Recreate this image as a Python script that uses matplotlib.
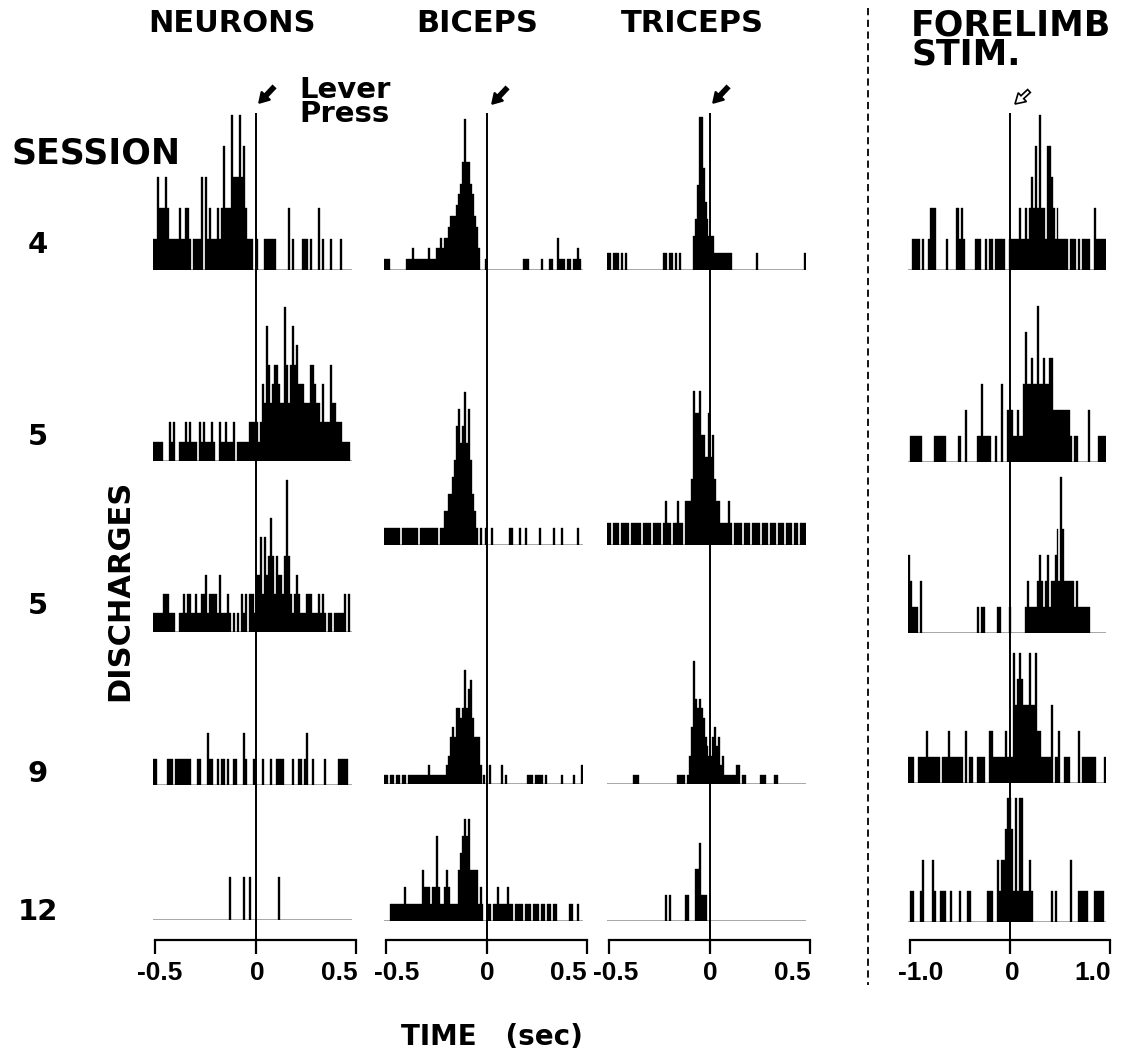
import matplotlib
matplotlib.use('Agg')
import matplotlib.pyplot as plt
import numpy as np
from matplotlib.patches import FancyArrow

W, H, DPI = 1121, 1062, 100
plt.rcParams['font.family'] = ['DejaVu Sans']
plt.rcParams['font.weight'] = 'bold'

# ---------------- data: spike counts per bin (100 bins per panel) ----------------
NEU_S4 = [1,1,3,2,2,2,3,2,1,1, 1,1,1,2,1,1,2,2,1,0, 1,1,1,1,3,0,3,1,2,1,
          1,1,2,1,2,4,2,2,2,5, 3,3,3,5,3,4,2,1,1,1, 0,0,1,0,0,0,1,1,1,1,
          1,1,0,0,0,0,0,0,2,0, 1,0,0,0,0,1,1,1,0,1, 0,0,0,2,0,1,0,0,0,1,
          0,0,0,0,1,0,0,0,0,0]
NEU_S5A = [1,1,1,1,1,0,0,0,2,1, 2,0,0,1,1,1,2,1,2,1, 1,1,0,2,1,2,1,1,1,2,
           1,0,0,2,1,1,2,1,1,1, 2,0,1,1,1,1,1,1,2,2, 2,2,2,1,2,4,3,7,5,3,
           4,5,5,4,3,3,8,5,3,5, 7,5,6,4,4,4,3,3,3,5, 5,4,3,3,2,4,2,2,2,5,
           3,3,2,2,2,1,1,1,1,0]
NEU_S5B = [1,1,1,1,1,2,2,2,1,1, 1,0,0,1,1,2,1,2,2,1, 1,2,1,1,2,2,3,1,2,2,
           2,2,1,3,1,1,1,2,1,0, 1,0,1,0,2,1,2,0,2,2, 2,1,3,3,5,2,5,3,4,6,
           4,2,4,3,3,2,4,8,4,2, 1,2,3,2,1,1,1,2,2,2, 1,1,1,2,1,2,1,0,1,1,
           0,1,1,1,1,1,2,0,2,0]
NEU_S9 = [1,1,0,0,0,0,0,1,1,1, 0,1,1,1,1,1,1,1,1,0, 0,0,1,1,0,0,0,2,1,1,
          0,0,1,0,1,1,0,1,0,0, 1,1,0,0,0,2,1,0,0,0, 1,1,0,0,0,1,0,0,0,1,
          0,0,1,1,1,1,0,0,0,0, 1,0,0,1,1,0,1,2,0,0, 1,0,0,0,0,0,1,0,0,0,
          0,0,0,1,1,1,1,1,0,0]
NEU_S12 = [0,0,0,0,0,0,0,0,0,0, 0,0,0,0,0,0,0,0,0,0, 0,0,0,0,0,0,0,0,0,0,
           0,0,0,0,0,0,0,0,1,0, 0,0,0,0,0,1,0,0,1,0, 0,0,0,0,0,0,0,0,0,0,
           0,0,0,1,0,0,0,0,0,0, 0,0,0,0,0,0,0,0,0,0, 0,0,0,0,0,0,0,0,0,0,
           0,0,0,0,0,0,0,0,0,0]

BIC_S4 = [1,1,1,0,0,0,0,0,0,0, 0,1,1,1,2,1,1,1,1,1, 1,1,2,1,1,1,2,2,3,2,
          3,3,4,5,5,5,6,7,8,10, 14,10,10,8,7,5,4,2,0,0, 0,1,0,0,0,0,0,0,0,0,
          0,0,0,0,0,0,0,0,0,0, 1,1,1,0,0,0,0,0,0,1, 0,0,0,1,1,0,0,3,1,1,
          1,0,1,1,0,1,1,2,1,0]
BIC_S5 = [1,1,1,1,1,1,1,1,0,1, 1,1,1,1,1,1,1,0,1,1, 1,1,1,1,1,1,1,0,1,1,
          2,2,3,3,4,5,7,8,6,7, 9,6,8,5,3,2,1,0,1,0, 0,1,0,0,1,0,0,0,0,0,
          0,0,0,1,1,0,0,0,1,0, 0,1,0,0,0,0,0,0,1,0, 0,0,0,0,0,1,0,0,0,1,
          0,0,0,0,0,0,0,1,0,0]
BIC_S9 = [1,1,0,1,1,0,1,1,0,1, 1,0,1,1,1,1,1,1,1,1, 1,1,2,1,1,1,1,1,1,1,
          1,2,3,5,6,5,8,8,7,8, 12,8,10,11,7,5,5,5,2,0, 1,0,0,2,0,0,0,0,0,2,
          0,1,0,0,0,0,0,0,0,0, 0,0,1,1,1,0,1,1,1,1, 0,1,0,0,0,0,0,0,0,1,
          0,0,0,0,0,1,0,0,0,2]
BIC_S12 = [0,0,0,1,1,1,1,1,1,1, 2,1,1,1,1,1,1,1,1,3, 2,2,2,1,2,2,5,2,1,1,
           2,3,2,1,1,1,1,3,4,5, 6,5,6,3,3,3,3,1,2,1, 0,0,1,1,0,1,1,2,1,1,
           1,1,2,1,1,0,1,1,1,1, 0,1,1,1,0,1,1,1,0,1, 1,0,1,1,0,1,1,0,0,0,
           0,0,0,1,1,0,0,1,0,0]

TRI_S4 = [1,1,0,1,1,1,0,1,0,1, 0,0,0,0,0,0,0,0,0,0, 0,0,0,0,0,0,0,0,1,1,
          0,1,1,0,1,0,1,0,0,0, 0,0,0,2,3,5,9,9,6,4, 3,2,2,2,1,1,1,1,1,1,
          1,1,1,0,0,0,0,0,0,0, 0,0,0,0,0,1,0,0,0,0, 0,0,0,0,0,0,0,0,0,0,
          0,0,0,0,0,0,0,0,0,1]
TRI_S5 = [1,1,0,1,1,1,0,1,1,1, 1,0,1,1,1,1,1,0,1,1, 1,1,0,1,1,1,1,0,1,2,
          1,1,0,1,1,2,1,1,0,2, 2,2,3,7,6,6,7,5,5,4, 4,6,4,5,3,2,2,1,1,1,
          1,2,1,0,1,1,1,1,0,1, 1,1,0,1,1,1,1,0,1,1, 1,0,1,1,1,0,1,1,1,0,
          1,1,1,0,1,1,0,1,1,1]
TRI_S9 = [0,0,0,0,0,0,0,0,0,0, 0,0,0,1,1,1,0,0,0,0, 0,0,0,0,0,0,0,0,0,0,
          0,0,0,0,0,1,1,1,1,0, 1,3,6,13,9,8,9,8,7,5, 4,3,3,5,6,4,5,2,3,1,
          1,1,1,1,1,2,2,0,1,1, 0,0,0,0,0,0,0,1,1,1, 0,0,0,0,1,1,0,0,0,0,
          0,0,0,0,0,0,0,0,0,0]
TRI_S12 = [0,0,0,0,0,0,0,0,0,0, 0,0,0,0,0,0,0,0,0,0, 0,0,0,0,0,0,0,0,0,1,
           0,1,0,0,0,0,0,0,0,1, 1,0,0,0,2,2,3,1,1,1, 0,0,0,0,0,0,0,0,0,0,
           0,0,0,0,0,0,0,0,0,0, 0,0,0,0,0,0,0,0,0,0, 0,0,0,0,0,0,0,0,0,0,
           0,0,0,0,0,0,0,0,0,0]

FL_S4 = [0,0,1,1,1,1,0,1,0,0, 1,2,2,2,0,0,0,0,0,1, 0,0,0,0,2,2,1,2,1,0,
         0,0,0,0,1,1,1,0,0,1, 0,1,1,0,1,1,1,1,1,0, 0,1,1,1,1,1,2,1,1,2,
         1,2,3,2,4,2,5,2,2,1, 4,4,3,2,1,2,1,1,1,1, 1,0,1,1,1,0,1,0,1,1,
         1,1,0,0,2,1,1,1,1,1]
FL_S5A = [0,1,1,1,1,1,1,0,0,0, 0,0,0,1,1,1,1,1,1,0, 0,0,0,0,0,1,1,0,0,2,
          0,0,0,0,0,1,1,3,1,1, 1,1,0,0,1,0,0,3,0,0, 2,2,2,1,1,2,1,1,3,5,
          3,3,4,3,3,6,3,3,4,3, 3,4,4,2,2,2,2,2,2,2, 2,2,1,0,1,1,0,0,0,0,
          0,2,0,0,0,0,1,1,1,1]
FL_S5B = [3,2,1,1,1,0,2,0,0,0, 0,0,0,0,0,0,0,0,0,0, 0,0,0,0,0,0,0,0,0,0,
          0,0,0,0,0,1,0,1,1,0, 0,0,0,0,0,1,1,0,0,0, 0,1,0,0,0,0,0,0,0,1,
          2,1,1,1,1,2,3,2,1,2, 3,1,2,2,3,4,2,6,4,2, 2,2,2,2,1,2,1,1,1,1,
          1,1,0,0,0,0,0,0,0,0]
FL_S9 = [1,1,1,0,0,1,1,1,1,2, 1,1,1,1,1,1,0,1,1,1, 2,1,1,1,1,1,1,1,0,2,
         0,1,1,0,0,1,1,1,1,0, 0,2,2,1,1,1,1,1,1,2, 1,1,1,5,3,4,5,4,3,3,
         3,5,3,3,5,2,2,1,1,1, 1,1,3,0,1,1,2,0,0,1, 1,1,0,0,0,0,2,0,1,1,
         1,1,1,1,1,0,0,0,0,1]
FL_S12 = [0,1,1,0,0,0,1,2,0,0, 0,0,2,1,0,0,1,1,1,0, 0,1,0,0,0,0,1,0,0,0,
          1,1,0,0,0,0,0,0,0,0, 1,1,1,0,0,2,1,2,2,3, 4,4,3,1,4,1,4,4,1,1,
          1,2,1,0,0,0,0,0,0,0, 0,0,1,0,1,0,0,0,0,0, 0,0,2,0,0,0,1,1,1,1,
          1,0,0,0,1,1,1,1,1,0]

SESSIONS = ['4', '5', '5', '9', '12']
TICKS_SHORT = [-0.5, 0, 0.5]
TICKLABELS_SHORT = ['-0.5', '0', '0.5']
TICKS_LONG = [-1.0, 0, 1.0]
TICKLABELS_LONG = ['-1.0', '0', '1.0']

# ---------------- layout helpers ----------------
fig = plt.figure(figsize=(W / DPI, H / DPI), dpi=DPI)
ov = fig.add_axes([0, 0, 1, 1])
ov.set_xlim(0, W); ov.set_ylim(H, 0); ov.axis('off')


def rect(x0, x1, ybot, ytop):
    return [x0 / W, 1 - ybot / H, (x1 - x0) / W, (ybot - ytop) / H]

# column: (x-left px, x-right px, xlim, ticks, labels, label centres px)
cols = {
    'neu': (155, 356, (-0.5, 0.5), TICKS_SHORT, TICKLABELS_SHORT, [160, 257, 339]),
    'bic': (386, 587, (-0.5, 0.5), TICKS_SHORT, TICKLABELS_SHORT, [397, 487, 568]),
    'tri': (609, 810, (-0.5, 0.5), TICKS_SHORT, TICKLABELS_SHORT, [616, 710, 792]),
    'fl':  (910, 1110, (-1.0, 1.0), TICKS_LONG, TICKLABELS_LONG, [921, 1012, 1093]),
}

AXIS_Y = 940
LINE_TOP = 113
for key, (x0, x1, xl, tk, tl, lx) in cols.items():
    ca = fig.add_axes(rect(x0, x1, AXIS_Y, LINE_TOP))
    ca.set_xlim(*xl); ca.set_ylim(0, 1)
    ca.patch.set_visible(False)
    for s in ['top', 'right', 'left']:
        ca.spines[s].set_visible(False)
    ca.spines['bottom'].set_linewidth(1.6)
    ca.set_yticks([])
    ca.set_xticks(tk)
    ca.set_xticklabels([''] * len(tk))
    ca.tick_params(axis='x', direction='out', length=10, width=1.6)
    ca.axvline(0, color='black', lw=1.4)
    for lab, xc in zip(tl, lx):
        ov.text(xc, 973, lab, ha='center', va='center', fontsize=19,
                fontweight='bold', family=['Liberation Sans'])

# panels: (column, baseline px, px per count, data)
panels = [
    ('neu', 270, 31, NEU_S4), ('neu', 461, 19.3, NEU_S5A), ('neu', 632, 19, NEU_S5B),
    ('neu', 785, 26, NEU_S9), ('neu', 920, 43, NEU_S12),
    ('bic', 270, 10.8, BIC_S4), ('bic', 545, 17, BIC_S5), ('bic', 784, 9.5, BIC_S9),
    ('bic', 921, 17, BIC_S12),
    ('tri', 270, 17, TRI_S4), ('tri', 545, 22, TRI_S5), ('tri', 784, 9.5, TRI_S9),
    ('tri', 921, 26, TRI_S12),
    ('fl', 270, 31, FL_S4), ('fl', 462, 26, FL_S5A), ('fl', 633, 26, FL_S5B),
    ('fl', 783, 26, FL_S9), ('fl', 922, 31, FL_S12),
]
PH = 180
for key, base, unit, counts in panels:
    x0, x1 = cols[key][0], cols[key][1]
    xl = cols[key][2]
    pa = fig.add_axes(rect(x0 - 2, x1 - 4, base, base - PH))
    pa.set_xlim(*xl); pa.set_ylim(0, PH / unit)
    pa.axis('off')
    counts = np.asarray(counts)
    edges = np.linspace(xl[0], xl[1], len(counts) + 1)
    bw = edges[1] - edges[0]
    pa.bar(edges[:-1] + bw / 2, counts, width=bw, color='black',
           edgecolor='black', lw=0.25)
    pa.axhline(0, color='black', lw=1.0)

# ---------------- text ----------------
hdr = dict(fontsize=22, fontweight='bold', va='center')
ov.text(232, 24, 'NEURONS', ha='center', **hdr)
ov.text(477, 24, 'BICEPS', ha='center', **hdr)
ov.text(692, 24, 'TRICEPS', ha='center', **hdr)
ov.text(911, 40, 'FORELIMB\nSTIM.', ha='left', fontsize=25, fontweight='bold',
        va='center', linespacing=0.82)
ov.text(96, 153, 'SESSION', ha='center', fontsize=25, fontweight='bold', va='center')
ov.text(299, 102, 'Lever\nPress', ha='left', fontsize=21, fontweight='bold',
        va='center', linespacing=0.8)
for lab, y in zip(SESSIONS, [245, 437, 606, 774, 912]):
    ov.text(38, y, lab, ha='center', va='center', fontsize=21, fontweight='bold')
ov.text(120, 590, 'DISCHARGES', rotation=90, ha='center', va='center',
        fontsize=22, fontweight='bold')
ov.text(492, 1037, 'TIME   (sec)', ha='center', va='center', fontsize=20,
        fontweight='bold')

# separator
ov.plot([868, 868], [8, 985], color='black', lw=1.3, ls=(0, (4, 2.5)))

# event arrows
for (tx, ty, hx, hy, fill) in [(274, 87, 259, 103, 'black'),
                               (507, 88, 492, 104, 'black'),
                               (728, 87, 713, 103, 'black'),
                               (1029, 91, 1015, 104, 'white')]:
    ov.add_patch(FancyArrow(tx, ty, hx - tx, hy - ty, width=4, head_width=12,
                            head_length=10, length_includes_head=True,
                            facecolor=fill, edgecolor='black', lw=1.2))

fig.savefig('out.png', dpi=DPI)
